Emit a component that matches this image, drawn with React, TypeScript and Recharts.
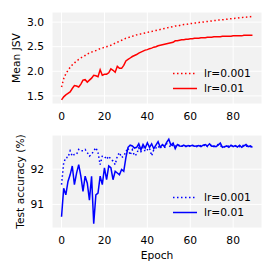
import React from 'react';
import { LineChart, Line, XAxis, YAxis, CartesianGrid } from 'recharts';

const jsvLr0001 = [
  1.68, 1.85, 1.95, 2.02, 2.08, 2.13, 2.17, 2.21, 2.24, 2.27,
  2.30, 2.32, 2.35, 2.37, 2.39, 2.41, 2.42, 2.44, 2.46, 2.47,
  2.49, 2.50, 2.52, 2.53, 2.55, 2.57, 2.59, 2.61, 2.63, 2.65,
  2.67, 2.68, 2.70, 2.71, 2.73, 2.74, 2.75, 2.76, 2.77, 2.78,
  2.79, 2.80, 2.81, 2.82, 2.83, 2.84, 2.85, 2.86, 2.87, 2.88,
  2.89, 2.90, 2.91, 2.92, 2.92, 2.93, 2.94, 2.95, 2.95, 2.96,
  2.97, 2.97, 2.98, 2.98, 2.99, 3.00, 3.00, 3.01, 3.01, 3.02,
  3.02, 3.03, 3.03, 3.04, 3.04, 3.05, 3.05, 3.06, 3.06, 3.07,
  3.07, 3.08, 3.08, 3.09, 3.09, 3.10, 3.10, 3.11, 3.11, 3.12,
];
const jsvLr001 = [
  1.42, 1.48, 1.52, 1.55, 1.58, 1.65, 1.71, 1.70, 1.68, 1.74,
  1.82, 1.83, 1.78, 1.82, 1.86, 1.92, 1.91, 1.89, 2.03, 1.92,
  1.94, 1.94, 1.97, 2.05, 2.02, 1.98, 2.10, 2.06, 2.06, 2.12,
  2.21, 2.24, 2.27, 2.30, 2.32, 2.34, 2.37, 2.39, 2.41, 2.43,
  2.44, 2.46, 2.47, 2.49, 2.50, 2.52, 2.53, 2.54, 2.55, 2.56,
  2.57, 2.58, 2.59, 2.62, 2.62, 2.63, 2.64, 2.64, 2.65, 2.65,
  2.66, 2.66, 2.67, 2.67, 2.67, 2.68, 2.68, 2.68, 2.69, 2.69,
  2.69, 2.70, 2.70, 2.70, 2.70, 2.71, 2.71, 2.71, 2.71, 2.71,
  2.72, 2.72, 2.72, 2.72, 2.72, 2.73, 2.73, 2.73, 2.73, 2.73,
];
const accLr0001 = [
  91.56, 92.18, 92.33, 92.33, 92.52, 92.37, 92.42, 92.42, 92.56, 92.52,
  92.52, 92.56, 92.47, 92.37, 92.42, 92.52, 92.61, 92.47, 92.13, 92.37,
  92.37, 92.28, 92.37, 92.28, 92.23, 92.13, 92.37, 92.47, 92.33, 92.37,
  92.50, 92.60, 92.40, 92.55, 92.38, 92.42, 92.60, 92.50, 92.62, 92.50,
  92.55, 92.60, 92.38, 92.55, 92.60, 92.66, 92.58, 92.70, 92.60, 92.72,
  92.68, 92.62, 92.70, 92.66, 92.64, 92.70, 92.66, 92.64, 92.66, 92.68,
  92.64, 92.67, 92.66, 92.64, 92.68, 92.66, 92.65, 92.70, 92.64, 92.67,
  92.68, 92.64, 92.66, 92.70, 92.65, 92.66, 92.63, 92.67, 92.65, 92.68,
  92.64, 92.66, 92.67, 92.64, 92.66, 92.68, 92.65, 92.66, 92.64, 92.66,
];
const accLr001 = [
  90.65, 91.46, 91.27, 91.65, 91.84, 92.09, 91.56, 91.89, 92.13, 91.80,
  91.37, 91.80, 91.60, 91.12, 91.80, 90.45, 91.27, 91.32, 91.80, 91.56,
  92.04, 91.70, 92.09, 92.04, 91.70, 91.94, 91.89, 91.84, 91.99, 91.94,
  92.33, 92.62, 92.68, 92.66, 92.60, 92.62, 92.72, 92.55, 92.70, 92.60,
  92.75, 92.62, 92.72, 92.58, 92.68, 92.78, 92.62, 92.70, 92.64, 92.76,
  92.85, 92.68, 92.74, 92.58, 92.70, 92.66, 92.65, 92.68, 92.64, 92.67,
  92.66, 92.68, 92.65, 92.66, 92.67, 92.64, 92.68, 92.70, 92.66, 92.72,
  92.65, 92.66, 92.64, 92.68, 92.74, 92.62, 92.64, 92.66, 92.62, 92.68,
  92.64, 92.67, 92.63, 92.68, 92.62, 92.66, 92.70, 92.64, 92.66, 92.62,
];
const xTicks = [0, 20, 40, 60, 80];
const jsvTicks = [1.5, 2.0, 2.5, 3.0];
const accTicks = [91, 92];
const seriesNames = ['lr=0.001', 'lr=0.01'];

const jsvData = jsvLr0001.map((v, i) => ({ epoch: i, a: v, b: jsvLr001[i] }));
const accData = accLr0001.map((v, i) => ({ epoch: i, a: v, b: accLr001[i] }));

const FONT = '"DejaVu Sans", sans-serif';
const FS = 10.7;
const tickStyle = { fontFamily: FONT, fontSize: FS, fill: '#000' };

const LegendBox = ({ color, left, top }: { color: string; left: number; top: number }) => (
  <div style={{ position: 'absolute', left, top, fontFamily: FONT, fontSize: FS, color: '#000' }}>
    {seriesNames.map((n, i) => (
      <div key={n} style={{ display: 'flex', alignItems: 'center', height: 15 }}>
        <svg width={24} height={15} style={{ display: 'block' }}>
          <line x1={0} x2={24} y1={7.5} y2={7.5} stroke={color} strokeWidth={1.5}
            strokeDasharray={i === 0 ? '1.5 2.5' : undefined} />
        </svg>
        <span style={{ marginLeft: 7, lineHeight: '15px', whiteSpace: 'nowrap' }}>{n}</span>
      </div>
    ))}
  </div>
);

const yLabel = (text: string, x: number, y: number) => () => (
  <text x={x} y={y} transform={`rotate(-90 ${x} ${y})`} textAnchor="middle" dominantBaseline="central"
    style={{ fontFamily: FONT, fontSize: FS, fill: '#000' }}>{text}</text>
);
const xLabel = (text: string, x: number, y: number) => () => (
  <text x={x} y={y} textAnchor="middle" style={{ fontFamily: FONT, fontSize: FS, fill: '#000' }}>{text}</text>
);

export default function App() {
  return (
    <div style={{ position: 'absolute', left: 0, top: 0, width: 274, height: 274, background: '#fff' }}>
      <div style={{ position: 'absolute', left: 0, top: 0 }}>
        <LineChart width={274} height={130} data={jsvData} margin={{ top: 12, right: 12, left: 0, bottom: 0 }}>
          <CartesianGrid fill="#f2f2f2" stroke="#ffffff" strokeWidth={1} />
          <XAxis dataKey="epoch" type="number" domain={[-4.45, 93.45]} ticks={xTicks} interval={0}
            allowDataOverflow axisLine={false} tickLine={false} tickMargin={2.5} height={26} tick={tickStyle} />
          <YAxis type="number" domain={[1.335, 3.205]} ticks={jsvTicks} interval={0} allowDataOverflow
            axisLine={false} tickLine={false} width={52} tick={tickStyle}
            tickFormatter={(v: number) => v.toFixed(1)}
            label={{ content: yLabel('Mean JSV', 16.5, 58) }} />
          <Line dataKey="a" name={seriesNames[0]} stroke="#ff0000" strokeWidth={1.5} strokeDasharray="1.5 2.5" dot={false} isAnimationActive={false} />
          <Line dataKey="b" name={seriesNames[1]} stroke="#ff0000" strokeWidth={1.5} dot={false} isAnimationActive={false} />
        </LineChart>
      </div>
      <div style={{ position: 'absolute', left: 0, top: 130 }}>
        <LineChart width={274} height={144} data={accData} margin={{ top: 5, right: 12, left: 0, bottom: 0 }}>
          <CartesianGrid fill="#f2f2f2" stroke="#ffffff" strokeWidth={1} />
          <XAxis dataKey="epoch" type="number" domain={[-4.45, 93.45]} ticks={xTicks} interval={0}
            allowDataOverflow axisLine={false} tickLine={false} tickMargin={2.5} height={46} tick={tickStyle}
            label={{ content: xLabel('Epoch', 157, 128.5) }} />
          <YAxis type="number" domain={[90.33, 92.97]} ticks={accTicks} interval={0} allowDataOverflow
            axisLine={false} tickLine={false} width={52} tick={tickStyle}
            label={{ content: yLabel('Test accuracy (%)', 20, 51.5) }} />
          <Line dataKey="a" name={seriesNames[0]} stroke="#0000ff" strokeWidth={1.5} strokeDasharray="1.5 2.5" dot={false} isAnimationActive={false} />
          <Line dataKey="b" name={seriesNames[1]} stroke="#0000ff" strokeWidth={1.5} dot={false} isAnimationActive={false} />
        </LineChart>
      </div>
      <LegendBox color="#ff0000" left={173} top={66} />
      <LegendBox color="#0000ff" left={173} top={190} />
    </div>
  );
}
